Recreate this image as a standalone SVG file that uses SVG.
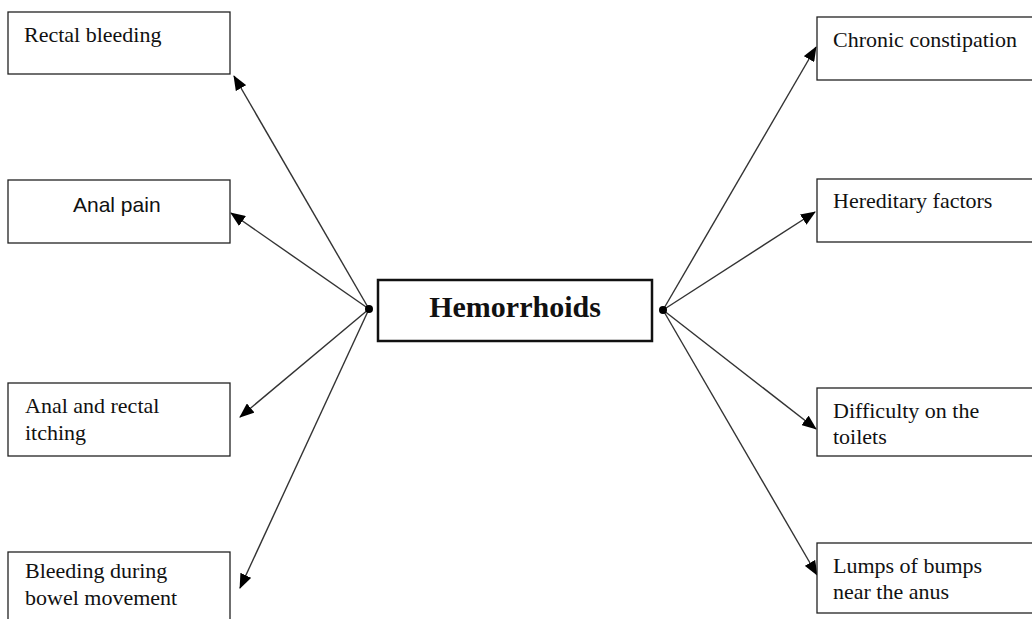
<svg xmlns="http://www.w3.org/2000/svg" width="1032" height="619" viewBox="0 0 1032 619">
<style>
.box{fill:#fff;stroke:#222;stroke-width:1.3}
.main{fill:#fff;stroke:#111;stroke-width:2.5}
.t{font-family:"Liberation Serif","Times New Roman",serif;font-size:22px;fill:#111}
.s{font-family:"Liberation Sans",Arial,sans-serif;font-size:21px;fill:#111}
.h{font-family:"Liberation Serif","Times New Roman",serif;font-size:30px;font-weight:bold;fill:#111}
.c{stroke:#333;stroke-width:1.4;fill:none;marker-end:url(#ah)}
</style>
<defs>
<marker id="ah" markerUnits="userSpaceOnUse" markerWidth="16" markerHeight="12" refX="14" refY="6" orient="auto">
<path d="M0,0 L15,6 L0,12 Z" fill="#000"/>
</marker>
</defs>
<rect width="1032" height="619" fill="#fff"/>
<g id="connectors">
<line class="c" x1="369" y1="309" x2="234" y2="76"/>
<line class="c" x1="369" y1="309" x2="231" y2="213"/>
<line class="c" x1="369" y1="309" x2="240" y2="417"/>
<line class="c" x1="369" y1="309" x2="240" y2="588"/>
<line class="c" x1="663" y1="310" x2="816" y2="47"/>
<line class="c" x1="663" y1="310" x2="815" y2="212"/>
<line class="c" x1="663" y1="310" x2="816" y2="429"/>
<line class="c" x1="663" y1="310" x2="817" y2="575"/>
<circle cx="369" cy="309" r="4" fill="#000"/>
<circle cx="663" cy="310" r="4" fill="#000"/>
</g>
<g id="hemorrhoids">
<rect class="main" x="378" y="280" width="274" height="61"/>
<text class="h" x="515" y="317" text-anchor="middle">Hemorrhoids</text>
</g>
<g id="rectal-bleeding">
<rect class="box" x="8" y="12" width="222" height="62"/>
<text class="t" x="24" y="42">Rectal bleeding</text>
</g>
<g id="anal-pain">
<rect class="box" x="8" y="180" width="222" height="63"/>
<text class="s" x="73" y="212">Anal pain</text>
</g>
<g id="anal-rectal-itching">
<rect class="box" x="8" y="383" width="222" height="73"/>
<text class="t" x="25" y="413">Anal and rectal</text>
<text class="t" x="25" y="440">itching</text>
</g>
<g id="bleeding-bowel">
<rect class="box" x="8" y="552" width="222" height="80"/>
<text class="t" x="25" y="578">Bleeding during</text>
<text class="t" x="25" y="605">bowel movement</text>
</g>
<g id="chronic-constipation">
<rect class="box" x="817" y="17" width="222" height="63"/>
<text class="t" x="833" y="47">Chronic constipation</text>
</g>
<g id="hereditary-factors">
<rect class="box" x="817" y="179" width="222" height="63"/>
<text class="t" x="833" y="208">Hereditary factors</text>
</g>
<g id="difficulty-toilets">
<rect class="box" x="817" y="388" width="222" height="68"/>
<text class="t" x="833" y="418">Difficulty on the</text>
<text class="t" x="833" y="444">toilets</text>
</g>
<g id="lumps-bumps">
<rect class="box" x="817" y="543" width="222" height="70"/>
<text class="t" x="833" y="573">Lumps of bumps</text>
<text class="t" x="833" y="599">near the anus</text>
</g>
</svg>
